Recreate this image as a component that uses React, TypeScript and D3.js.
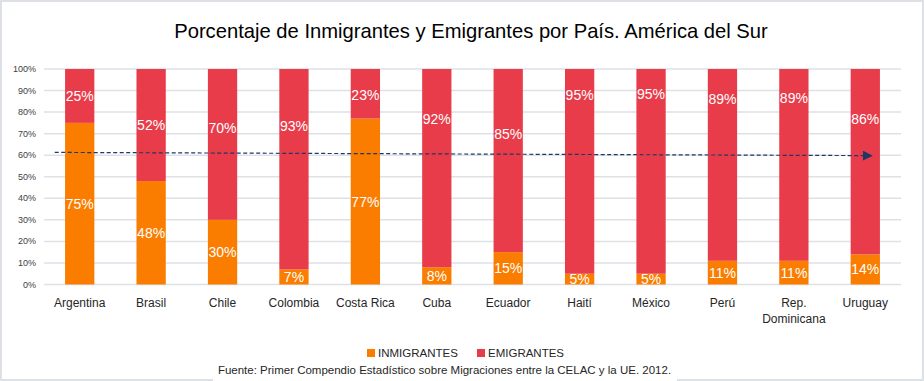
import React from "react";
import * as d3 from "d3";

const categories = ["Argentina", "Brasil", "Chile", "Colombia", "Costa Rica", "Cuba", "Ecuador", "Haití", "México", "Perú", "Rep. Dominicana", "Uruguay"];
const inmigrantes = [75, 48, 30, 7, 77, 8, 15, 5, 5, 11, 11, 14];
const emigrantes = [25, 52, 70, 93, 23, 92, 85, 95, 95, 89, 89, 86];
// value (on the % axis) at which each emigrant data label sits
const emigrantesLabelAt = [87.6, 74.0, 72.5, 73.4, 88.1, 76.8, 69.8, 88.0, 88.5, 86.0, 86.4, 76.9];
const yTicks = [0, 10, 20, 30, 40, 50, 60, 70, 80, 90, 100];
const trendStartValue = 61.3;
const trendEndValue = 59.8;
const seriesNames = ["INMIGRANTES", "EMIGRANTES"];
const title = "Porcentaje de Inmigrantes y Emigrantes por País. América del Sur";
const footer = "Fuente: Primer Compendio Estadístico sobre Migraciones entre la CELAC y la UE. 2012.";

const W = 924;
const H = 381;
const COL_IN = "#FA7D00";
const COL_EM = "#E83C4A";
const GRID = "#DDE1E6";
const FONT = "'Liberation Sans', Arial, sans-serif";

export default function App() {
  const x = d3.scaleBand<string>().domain(categories).range([44, 901]).paddingInner(0.59).paddingOuter(0.295);
  const y = d3.scaleLinear().domain([0, 100]).range([284.5, 69]);
  const step = x.step();
  const bw = x.bandwidth();
  const cx = (c: string) => (x(c) as number) + bw / 2;

  const trendX0 = cx(categories[0]) - step * 0.35;
  const trendX1 = cx(categories[categories.length - 1]) + step * 0.105;

  return (
    <svg width={W} height={H} style={{ position: "absolute", left: 0, top: 0 }} fontFamily={FONT}>
      <defs>
        <marker id="arr" viewBox="0 0 10 10" refX="10" refY="5" markerWidth="10" markerHeight="10" markerUnits="userSpaceOnUse" orient="auto">
          <path d="M0,0 L10,5 L0,10 Z" fill="#1F3864" />
        </marker>
      </defs>
      <rect x={0} y={0} width={W} height={H} fill="#fff" />
      <rect x={1} y={1} width={W - 2} height={H - 2} fill="none" stroke={GRID} strokeWidth={2} />
      <text x={471} y={38} textAnchor="middle" fontSize={20.2} fill="#000">{title}</text>

      {yTicks.map((t) => (
        <g key={t}>
          <line x1={44} x2={901} y1={y(t)} y2={y(t)} stroke={GRID} strokeWidth={1.5} />
          <text x={36} y={y(t) + 3} textAnchor="end" fontSize={9} fill="#404040">{t}%</text>
        </g>
      ))}

      {categories.map((c, i) => {
        const x0 = x(c) as number;
        const yi = y(inmigrantes[i]);
        const ye = y(inmigrantes[i] + emigrantes[i]);
        return (
          <g key={c}>
            <rect x={x0} y={yi} width={bw} height={y(0) - yi} fill={COL_IN} />
            <rect x={x0} y={ye} width={bw} height={yi - ye} fill={COL_EM} />
            <text x={cx(c)} y={y(inmigrantes[i] / 2) + 5} textAnchor="middle" fontSize={14} fill="#fff">{inmigrantes[i]}%</text>
            <text x={cx(c)} y={y(emigrantesLabelAt[i]) + 5} textAnchor="middle" fontSize={14} fill="#fff">{emigrantes[i]}%</text>
          </g>
        );
      })}

      <line x1={trendX0} y1={y(trendStartValue)} x2={trendX1} y2={y(trendEndValue)} stroke="#1F3864" strokeWidth={1.2} strokeDasharray="4,2.5" markerEnd="url(#arr)" />

      {categories.map((c) => {
        const parts = c === "Rep. Dominicana" ? ["Rep.", "Dominicana"] : [c];
        return (
          <text key={c} x={cx(c)} y={306.5} textAnchor="middle" fontSize={12} fill="#262626">
            {parts.map((p, k) => (
              <tspan key={k} x={cx(c)} dy={k === 0 ? 0 : 16}>{p}</tspan>
            ))}
          </text>
        );
      })}

      <rect x={367} y={349} width={8} height={8} fill={COL_IN} />
      <text x={378} y={357} fontSize={11.5} fill="#262626">{seriesNames[0]}</text>
      <rect x={477} y={349} width={8} height={8} fill={COL_EM} />
      <text x={488} y={357} fontSize={11.5} fill="#262626">{seriesNames[1]}</text>

      <rect x={213} y={362} width={464} height={19} fill="#fff" />
      <text x={444.5} y={374} textAnchor="middle" fontSize={11.5} fill="#262626">{footer}</text>
    </svg>
  );
}
